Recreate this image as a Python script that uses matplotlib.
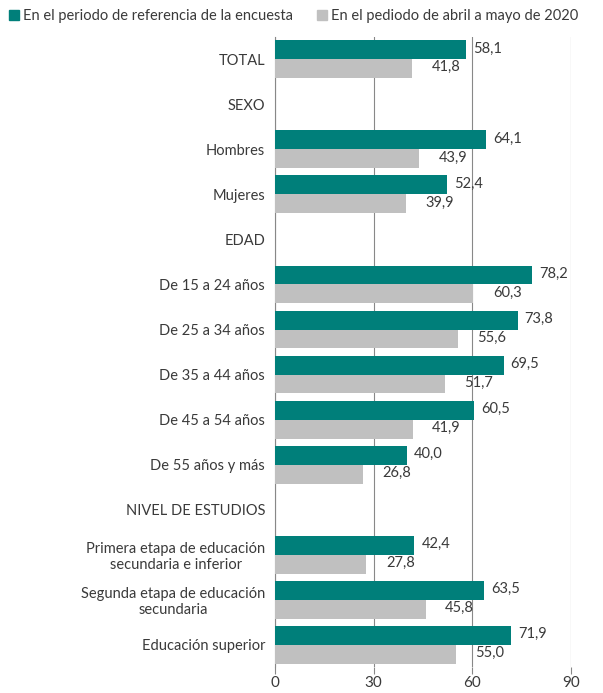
import matplotlib
matplotlib.use("Agg")
import matplotlib.pyplot as plt
import numpy as np
from matplotlib.patches import Patch

plt.rcParams['font.family'] = ['Lato', 'DejaVu Sans']

categories = ["TOTAL", "SEXO", "Hombres", "Mujeres", "EDAD", "De 15 a 24 años",
              "De 25 a 34 años", "De 35 a 44 años", "De 45 a 54 años", "De 55 años y más",
              "NIVEL DE ESTUDIOS", "Primera etapa de educación\nsecundaria e inferior",
              "Segunda etapa de educación\nsecundaria", "Educación superior"]
serie_ref = [58.1, None, 64.1, 52.4, None, 78.2, 73.8, 69.5, 60.5, 40.0, None, 42.4, 63.5, 71.9]
serie_abr = [41.8, None, 43.9, 39.9, None, 60.3, 55.6, 51.7, 41.9, 26.8, None, 27.8, 45.8, 55.0]
labels_series = ["En el periodo de referencia de la encuesta", "En el pediodo de abril a mayo de 2020"]
xticks = [0, 30, 60, 90]

teal = "#007f7a"
gray = "#c0c0c0"
txt = "#3a3a3a"

fig = plt.figure(figsize=(6.03, 6.93), dpi=100)
ax = fig.add_axes([0.456, 0.037, 0.491, 0.910])

n = len(categories)
y = np.arange(n)
h = 0.42

for i, (a, b) in enumerate(zip(serie_ref, serie_abr)):
    if a is not None:
        ax.barh(y[i] - h/2, a, height=h, color=teal, zorder=3)
        ax.annotate(f"{a:.1f}".replace(".", ","), (a, y[i] - h/2), xytext=(5, 1),
                    textcoords="offset points", va="center", ha="left", fontsize=10.5, color=txt)
    if b is not None:
        ax.barh(y[i] + h/2, b, height=h, color=gray, zorder=3)
        ax.annotate(f"{b:.1f}".replace(".", ","), (b, y[i] + h/2), xytext=(14, 1),
                    textcoords="offset points", va="center", ha="left", fontsize=10.5, color=txt)

ax.set_xlim(0, 90)
ax.set_ylim(n - 0.5, -0.5)
ax.set_xticks(xticks)
ax.set_xticklabels([str(t) for t in xticks], fontsize=11, color=txt)
ax.set_yticks(y)
ax.set_yticklabels(categories, fontsize=10.5, color=txt, ha="right", multialignment="center")
ax.tick_params(axis="y", length=0, pad=7)
ax.tick_params(axis="x", length=5, color="#888888", width=0.8, pad=1.5)
for s in ["top", "right", "bottom"]:
    ax.spines[s].set_visible(False)
ax.spines["left"].set_color("#888888")
ax.spines["left"].set_linewidth(0.8)
ax.grid(axis="x", color="#888888", linewidth=0.8, zorder=0)
ax.set_axisbelow(True)

handles = [Patch(color=teal), Patch(color=gray)]
fig.legend(handles, labels_series, loc="upper left", bbox_to_anchor=(0.0, 1.0), ncol=2,
           frameon=False, fontsize=10.5, handlelength=0.7, handleheight=0.7,
           handletextpad=0.3, columnspacing=1.6, labelcolor=txt, borderaxespad=0.2)

fig.savefig("out.png", dpi=100)
